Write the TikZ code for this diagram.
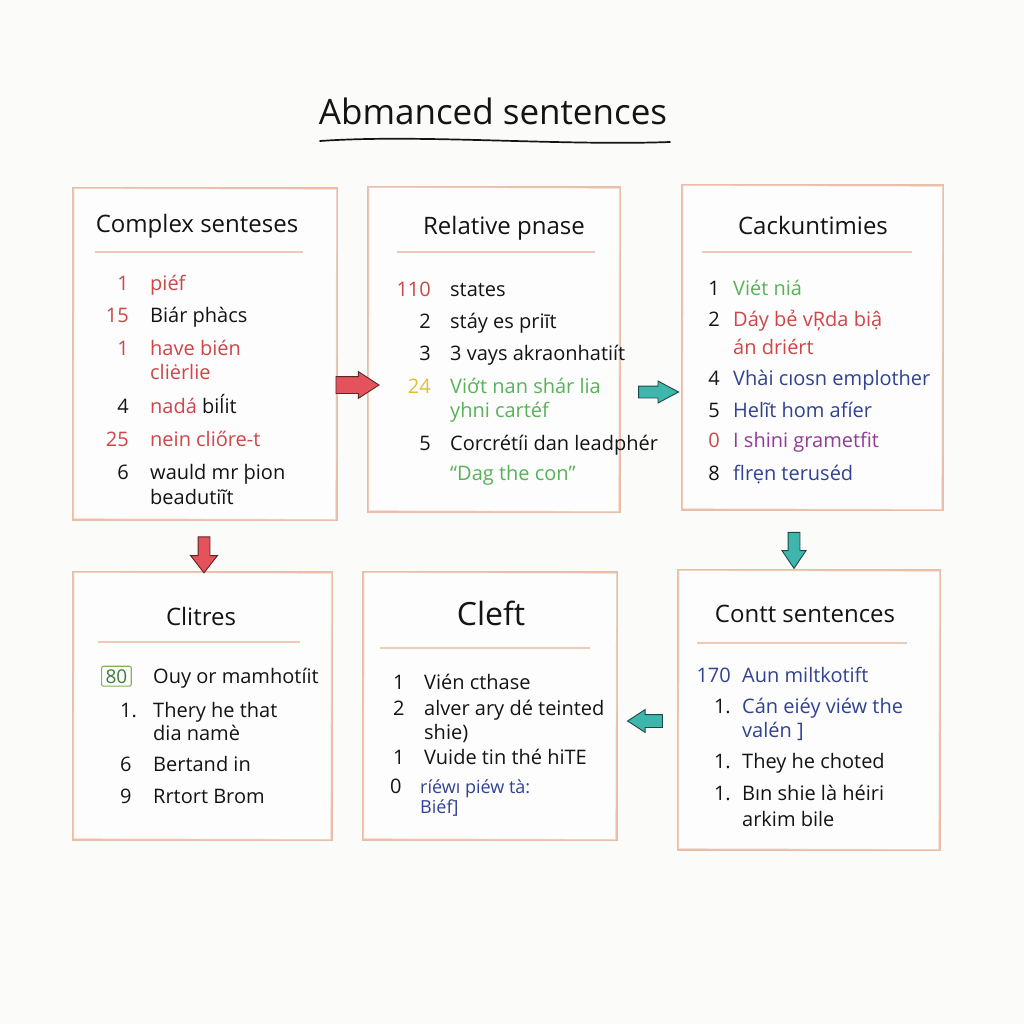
\documentclass[tikz,border=0pt]{standalone}
\usepackage{fontspec}
\setmainfont{Open Sans}
\usetikzlibrary{shapes.arrows}
\definecolor{bgc}{RGB}{251,251,249}
\definecolor{boxc}{RGB}{232,190,168}
\definecolor{sepc}{RGB}{238,202,182}
\definecolor{redc}{RGB}{205,70,72}
\definecolor{greenc}{RGB}{88,178,88}
\definecolor{yellowc}{RGB}{222,192,50}
\definecolor{bluec}{RGB}{48,66,148}
\definecolor{purplec}{RGB}{145,60,150}
\definecolor{inkc}{RGB}{20,20,20}
\definecolor{arred}{RGB}{228,82,92}
\definecolor{arreddk}{RGB}{90,40,42}
\definecolor{arteal}{RGB}{62,182,172}
\definecolor{artealdk}{RGB}{30,72,72}
\newcommand\nx{0}
\newcommand\tx{0}
\newcommand\rw[6]{%
  \node[numst,text=#3] (#1n) at (\nx,#2) {#4};
  \node[itm,text=#5] (#1t) at (\tx,#2) {#6};}
\newcommand\cl[4]{\node[itm,text=#3] (#1) at (\tx,#2) {#4};}
\begin{document}
\begin{tikzpicture}[x=1pt,y=-1pt,
  box/.style={draw=boxc, line width=1.5pt, fill=white!60!bgc, inner sep=0pt},
  sep/.style={draw=sepc, line width=2.2pt},
  head/.style={anchor=base, text=inkc, font=\fontsize{24}{28}\selectfont},
  numst/.style={anchor=base east, inner sep=0pt, font=\fontsize{20}{24}\selectfont},
  itm/.style={anchor=base west, inner sep=0pt, font=\fontsize{20}{24}\selectfont},
  redarr/.style={single arrow, draw=arreddk, fill=arred, line width=0.9pt, inner xsep=0pt},
  tealarr/.style={single arrow, draw=artealdk, fill=arteal, line width=0.9pt, inner xsep=0pt}]
\fill[bgc] (0,0) rectangle (1024,1024);
\useasboundingbox (0,0) rectangle (1024,1024);

% title
\node[anchor=base, text=inkc, font=\fontsize{35}{40}\selectfont] (title) at (493,125) {Abmanced sentences};
\coordinate (ul1) at (320,141);
\coordinate (ul2) at (670,142);
\draw[inkc, line width=1.7pt, line cap=round] (ul1) .. controls (420,134) and (560,146) .. (ul2);

% boxes
\node[box, minimum width=264pt, minimum height=332pt] (b1) at (205,354) {};
\node[box, minimum width=252pt, minimum height=325pt] (b2) at (494,349.5) {};
\node[box, minimum width=261pt, minimum height=325pt] (b3) at (812.5,347.5) {};
\node[box, minimum width=259pt, minimum height=268pt] (b4) at (202.5,706) {};
\node[box, minimum width=254pt, minimum height=268pt] (b5) at (490,706) {};
\node[box, minimum width=262pt, minimum height=280pt] (b6) at (809,710) {};
\foreach \b in {b1,b2,b3,b4,b5,b6}{
  \draw[boxc!70!white, line width=0.7pt] ([shift={(1.8,1.2)}]\b.north west) -- ([shift={(-1.2,2)}]\b.north east) -- ([shift={(-2,-1.2)}]\b.south east) -- ([shift={(1.4,-2)}]\b.south west) -- cycle;
}

% headings and separators
\node[head] (h1) at (197,233) {Complex senteses};
\draw[sep] (95,252) coordinate (s1a) -- (303,252) coordinate (s1b);
\node[head] (h2) at (504,234) {Relative pnase};
\draw[sep] (397,252) coordinate (s2a) -- (595,252) coordinate (s2b);
\node[head] (h3) at (813,235) {Cackuntimies};
\draw[sep] (702,252) coordinate (s3a) -- (912,252) coordinate (s3b);
\node[head] (h4) at (201,625) {Clitres};
\draw[sep] (98,642) coordinate (s4a) -- (300,642) coordinate (s4b);
\node[head, font=\fontsize{32}{36}\selectfont] (h5) at (491,625) {Cleft};
\draw[sep] (380,648) coordinate (s5a) -- (590,648) coordinate (s5b);
\node[head] (h6) at (805,622) {Contt sentences};
\draw[sep] (697,643) coordinate (s6a) -- (907,643) coordinate (s6b);

% box 1
\renewcommand\nx{129}\renewcommand\tx{150}
\rw{a1}{290}{redc}{1}{redc}{piéf}
\rw{a2}{322}{redc}{15}{inkc}{Biár phàcs}
\rw{a3}{355}{redc}{1}{redc}{have bién}
\cl{a3c}{379}{redc}{cliėrlie}
\rw{a4}{413}{inkc}{4}{inkc}{\textcolor{redc}{nadá} biĺit}
\rw{a5}{446}{redc}{25}{redc}{nein cliőre-t}
\rw{a6}{479}{inkc}{6}{inkc}{wauld mr þion}
\cl{a6c}{504}{inkc}{beadutiĩt}

% box 2
\renewcommand\nx{431}\renewcommand\tx{450}
\rw{c1}{296}{redc}{110}{inkc}{states}
\rw{c2}{328}{inkc}{2}{inkc}{stáy es priīt}
\rw{c3}{360}{inkc}{3}{inkc}{3 vays akraonhatiít}
\rw{c4}{393}{yellowc}{24}{greenc}{Viớt nan shár lia}
\cl{c4c}{417}{greenc}{yhni cartéf}
\rw{c5}{450}{inkc}{5}{inkc}{Corcrétíi dan leadphér}
\cl{c5c}{480}{greenc}{“Dag the con”}

% box 3
\renewcommand\nx{720}\renewcommand\tx{733}
\rw{d1}{295}{inkc}{1}{greenc}{Viét niá}
\rw{d2}{326}{inkc}{2}{redc}{Dáy bẻ vŖda biậ}
\cl{d2c}{354}{redc}{án driért}
\rw{d3}{385}{inkc}{4}{bluec}{Vhài cıosn emplother}
\rw{d4}{417}{inkc}{5}{bluec}{Helĩt hom afíer}
\rw{d5}{447}{redc}{0}{purplec}{I shini grametfit}
\rw{d6}{480}{inkc}{8}{bluec}{flrẹn teruséd}

% box 4
\renewcommand\tx{153}
\node[anchor=base west, text=greenc!70!black, draw=greenc!70!yellowc, line width=1.1pt, rounded corners=2pt, inner xsep=4pt, inner ysep=3pt, font=\fontsize{19}{22}\selectfont] (e1n) at (101,683) {80};
\cl{e1t}{683}{inkc}{Ouy or mamhotíit}
\node[itm, text=inkc] (e2n) at (120,717) {1.};
\cl{e2t}{717}{inkc}{Thery he that}
\cl{e2c}{740}{inkc}{dia namè}
\node[itm, text=inkc] (e3n) at (120,771) {6};
\cl{e3t}{771}{inkc}{Bertand in}
\node[itm, text=inkc] (e4n) at (120,803) {9};
\cl{e4t}{803}{inkc}{Rrtort Brom}

% box 5
\renewcommand\tx{424}
\node[itm, text=inkc] (f1n) at (393,689) {1};
\cl{f1t}{689}{inkc}{Vién cthase}
\node[itm, text=inkc] (f2n) at (393,715) {2};
\cl{f2t}{715}{inkc}{alver ary dé teinted}
\cl{f2c}{739}{inkc}{shie)}
\node[itm, text=inkc] (f3n) at (393,764) {1};
\cl{f3t}{764}{inkc}{Vuide tin thé hiTE}
\node[itm, text=inkc] (f4n) at (390,793) {0};
\node[itm, text=bluec, font=\fontsize{18}{22}\selectfont] (f4t) at (420,793) {ríéwı piéw tà:};
\node[itm, text=bluec, font=\fontsize{18}{22}\selectfont] (f4c) at (420,813) {Biéf]};

% box 6
\renewcommand\nx{731}\renewcommand\tx{742}
\rw{g1}{682}{bluec}{170}{bluec}{Aun miltkotift}
\rw{g2}{713}{inkc}{1.}{bluec}{Cán eiéy viéw the}
\cl{g2c}{737}{bluec}{valén ]}
\rw{g3}{768}{inkc}{1.}{inkc}{They he choted}
\rw{g4}{800}{inkc}{1.}{inkc}{Bın shie là héiri}
\cl{g4c}{826}{inkc}{arkim bile}

% arrows between boxes
\node[redarr, minimum height=43pt, inner ysep=8pt, single arrow head extend=5pt, single arrow tip angle=66] (ar12) at (351,385) {};
\node[tealarr, minimum height=40pt, inner ysep=5.5pt, single arrow head extend=5pt, single arrow tip angle=56] (ar23) at (653,392) {};
\node[redarr, shape border rotate=270, minimum height=36pt, inner xsep=5.5pt, inner ysep=0pt, single arrow head extend=7.5pt, single arrow tip angle=76] (ar14) at (204,551) {};
\node[tealarr, shape border rotate=270, minimum height=36pt, inner xsep=5.5pt, inner ysep=0pt, single arrow head extend=6pt, single arrow tip angle=68] (ar36) at (794,546) {};
\node[tealarr, shape border rotate=180, minimum height=35pt, inner ysep=6pt, single arrow head extend=5pt, single arrow tip angle=66] (ar65) at (650,721) {};
\end{tikzpicture}
\end{document}
